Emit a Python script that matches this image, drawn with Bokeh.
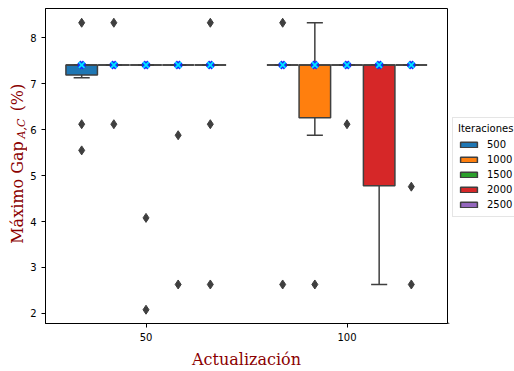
import math
from bokeh.plotting import figure
from bokeh.layouts import row
from bokeh.models import ColumnDataSource, Legend, LegendItem, FixedTicker, Range1d
from bokeh.core.properties import value
from bokeh.embed import file_html
from bokeh.resources import INLINE

# Categories
grupos = ["50", "100"]
iteraciones = ["500", "1000", "1500", "2000", "2500"]
colores = ["#1f77b4", "#ff7f0e", "#2ca02c", "#d62728", "#9467bd"]

# Box statistics: one row per "Actualización" group, one column per "Iteraciones" value
q1 = [[7.19, 7.41, 7.41, 7.41, 7.41],
      [7.41, 6.26, 7.41, 4.78, 7.41]]
mediana = [[7.41, 7.41, 7.41, 7.41, 7.41],
           [7.41, 7.41, 7.41, 7.41, 7.41]]
q3 = [[7.41, 7.41, 7.41, 7.41, 7.41],
      [7.41, 7.41, 7.41, 7.41, 7.41]]
bigote_inf = [[7.13, 7.41, 7.41, 7.41, 7.41],
              [7.41, 5.88, 7.41, 2.63, 7.41]]
bigote_sup = [[7.41, 7.41, 7.41, 7.41, 7.41],
              [7.41, 8.33, 7.41, 7.41, 7.41]]
atipicos = [[[8.33, 6.12, 5.55], [8.33, 6.12], [4.08, 2.08], [5.88, 2.63], [8.33, 6.12, 2.63]],
            [[8.33, 2.63], [2.63], [6.12], [], [4.76, 2.63]]]
referencia = [[7.41, 7.41, 7.41, 7.41, 7.41],
              [7.41, 7.41, 7.41, 7.41, 7.41]]

ANCHO = 0.8 / len(iteraciones)
BORDE = "#3f3f3f"
ROJO = "#8b0000"
ALTO = 371
TOP, BOTTOM = 8, 43

# ---- main box plot -------------------------------------------------------
p = figure(width=421, height=ALTO, output_backend="svg", toolbar_location=None,
           x_range=Range1d(-0.5, 1.5), y_range=Range1d(1.78, 8.64),
           min_border_left=17, min_border_right=1, min_border_top=TOP, min_border_bottom=BOTTOM)
p.xgrid.visible = False
p.ygrid.visible = False
p.outline_line_color = "black"
p.outline_line_alpha = 1
p.outline_line_width = 1


def pos(g, j):
    return g + (j - (len(iteraciones) - 1) / 2) * ANCHO


wx, wy0, wy1 = [], [], []
cx0, cx1, cy = [], [], []
ox, oy = [], []
rx, ry = [], []
mx0, mx1, my = [], [], []
for g in range(len(grupos)):
    for j in range(len(iteraciones)):
        x = pos(g, j)
        wx += [x, x]
        wy0 += [q1[g][j], q3[g][j]]
        wy1 += [bigote_inf[g][j], bigote_sup[g][j]]
        cx0 += [x - ANCHO / 4, x - ANCHO / 4]
        cx1 += [x + ANCHO / 4, x + ANCHO / 4]
        cy += [bigote_inf[g][j], bigote_sup[g][j]]
        mx0.append(x - ANCHO * 0.49)
        mx1.append(x + ANCHO * 0.49)
        my.append(mediana[g][j])
        for v in atipicos[g][j]:
            ox.append(x)
            oy.append(v)
        rx.append(x)
        ry.append(referencia[g][j])

# whiskers and caps
p.segment(x0=wx, y0=wy0, x1=wx, y1=wy1, line_color=BORDE, line_width=1.5)
p.segment(x0=cx0, y0=cy, x1=cx1, y1=cy, line_color=BORDE, line_width=1.5)

# boxes, one renderer per iteration count
for j, it in enumerate(iteraciones):
    src = ColumnDataSource(dict(
        x=[pos(g, j) for g in range(len(grupos))],
        bottom=[q1[g][j] for g in range(len(grupos))],
        top=[q3[g][j] for g in range(len(grupos))],
    ))
    p.vbar(x="x", bottom="bottom", top="top", width=ANCHO * 0.98, source=src,
           fill_color=colores[j], line_color=BORDE, line_width=1.5)

# medians
p.segment(x0=mx0, y0=my, x1=mx1, y1=my, line_color=BORDE, line_width=1.5)

# outliers
p.scatter(ox, oy, marker="diamond", size=9, fill_color=BORDE, line_color=BORDE)

# reference markers
p.scatter(rx, ry, marker="x", size=8, line_color="#1030ff", line_width=4.5)
p.scatter(rx, ry, marker="x", size=8, line_color="#00e5ff", line_width=1.8)

p.xaxis.ticker = FixedTicker(ticks=[0, 1])
p.xaxis.major_label_overrides = {0: grupos[0], 1: grupos[1]}
p.yaxis.ticker = FixedTicker(ticks=[2, 3, 4, 5, 6, 7, 8])
for ax in (p.xaxis[0], p.yaxis[0]):
    ax.major_label_text_font = "DejaVu Sans"
    ax.major_label_text_font_size = "10px"
    ax.major_label_text_color = "black"
    ax.major_tick_out = 4
    ax.major_tick_in = 0
    ax.minor_tick_out = 0
    ax.minor_tick_in = 0
    ax.axis_line_color = "black"
    ax.major_tick_line_color = "black"

p.xaxis.axis_label = "Actualización"
p.xaxis.axis_label_text_font = "DejaVu Serif"
p.xaxis.axis_label_text_font_style = "normal"
p.xaxis.axis_label_text_font_size = "16px"
p.xaxis.axis_label_text_color = ROJO
p.xaxis.axis_label_standoff = 6

# ---- y label strip: main text, italic subscript, units ---------------------
# y runs in pixels measured up from the bottom edge of the page
lab = figure(width=27, height=ALTO, output_backend="svg", toolbar_location=None,
             x_range=Range1d(0, 27), y_range=Range1d(BOTTOM, ALTO - TOP),
             x_axis_type=None, y_axis_type=None,
             min_border_left=0, min_border_right=0, min_border_top=TOP, min_border_bottom=BOTTOM)
lab.outline_line_color = None
lab.xgrid.visible = False
lab.ygrid.visible = False
comun = dict(angle=math.pi / 2, text_align="left", text_baseline="middle",
             text_font=value("DejaVu Serif"), text_color=ROJO)
lab.text(x=[16.9], y=[ALTO - 247], text=["Máximo Gap"], text_font_size="16px", **comun)
lab.text(x=[20.9], y=[ALTO - 140], text=["A,C"], text_font_size="11px",
         text_font_style="italic", **comun)
lab.text(x=[16.9], y=[ALTO - 112.5], text=["(%)"], text_font_size="16px", **comun)

# ---- legend strip ----------------------------------------------------------
leg = figure(width=66, height=ALTO, output_backend="svg", toolbar_location=None,
             x_range=Range1d(0, 1), y_range=Range1d(0, 1),
             x_axis_type=None, y_axis_type=None,
             min_border_left=0, min_border_right=0, min_border_top=TOP, min_border_bottom=BOTTOM)
leg.outline_line_color = None
leg.xgrid.visible = False
leg.ygrid.visible = False
items = []
for j, it in enumerate(iteraciones):
    # swatch-only renderer, its bar lies outside the visible range
    r = leg.vbar(x=[-5], top=[-5], bottom=[-6], width=0.1,
                 fill_color=colores[j], line_color=BORDE, line_width=1.5)
    items.append(LegendItem(label=it, renderers=[r]))
legend = Legend(items=items, title="Iteraciones", location=(4, 106.5),
                title_text_font="DejaVu Sans", title_text_font_size="10px",
                title_text_font_style="normal", title_text_color="black", title_standoff=5,
                label_text_font="DejaVu Sans", label_text_font_size="10px",
                label_text_color="black",
                glyph_width=21, glyph_height=7, label_standoff=8,
                label_height=12, spacing=3, padding=5, margin=0,
                border_line_color="#cccccc", border_line_width=1,
                background_fill_alpha=0.8)
leg.add_layout(legend)

layout = row(lab, p, leg, spacing=0)
open("out.html", "w").write(file_html(layout, INLINE))
